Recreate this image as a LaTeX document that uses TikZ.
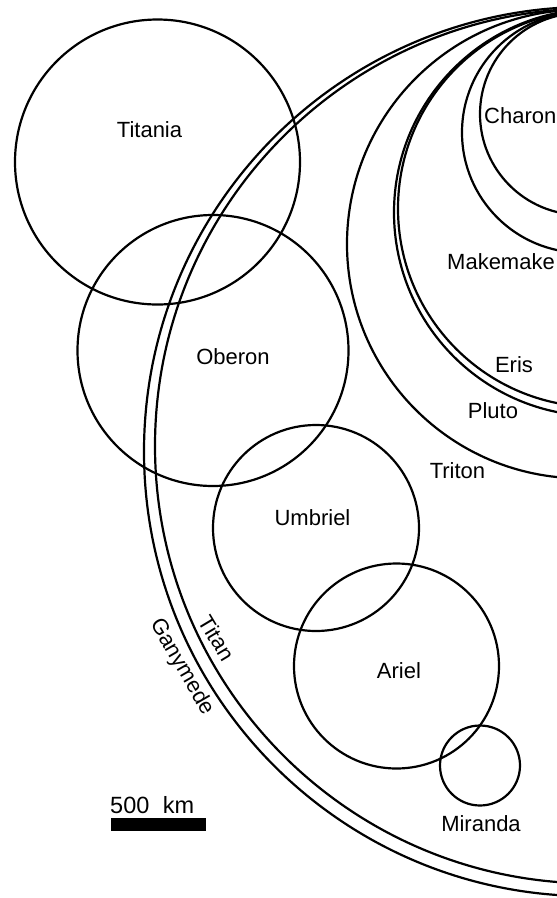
\documentclass[tikz,border=0pt]{standalone}
\usepackage{fontspec}
\setmainfont{Liberation Sans}
\begin{document}
\begin{tikzpicture}[x=1pt, y=-1pt]
    % Styles
    \tikzstyle{disc} = [draw=black, line width=2.2pt]
    \tikzstyle{moonname} = [font=\fontsize{22}{26}\selectfont, inner sep=0pt, anchor=base]
    \tikzstyle{scalebar} = [fill=black, inner sep=0pt, minimum width=95pt, minimum height=13pt]

    \useasboundingbox (0,0) rectangle (557,898);
    \clip (0,0) rectangle (557,898);

    % === Large bodies, all touching near the top right corner ===
    % Ganymede and Titan
    \coordinate (ganymede) at (588.6,451.5);
    \coordinate (titan) at (592.4,446);
    \draw [disc] (ganymede) circle [radius=444.6];
    \draw [disc] (titan) circle [radius=437.4];

    % Triton
    \coordinate (triton) at (581.3,244);
    \draw [disc] (triton) circle [radius=234.3];

    % Pluto and Eris
    \coordinate (pluto) at (597.6,212.5);
    \coordinate (eris) at (596.5,208.5);
    \draw [disc] (pluto) circle [radius=203.6];
    \draw [disc] (eris) circle [radius=198.5];

    % Makemake
    \coordinate (makemake) at (582.2,132.5);
    \draw [disc] (makemake) circle [radius=120.2];

    % Charon
    \coordinate (charon) at (580.9,114);
    \draw [disc] (charon) circle [radius=100.9];

    % === Moons of Uranus ===
    \coordinate (titania) at (157.5,162);
    \coordinate (oberon) at (213,350.5);
    \coordinate (umbriel) at (316,528);
    \coordinate (ariel) at (396.5,666);
    \coordinate (miranda) at (480,765.5);
    \draw [disc] (titania) circle [radius=142.5];
    \draw [disc] (oberon) circle [radius=135.5];
    \draw [disc] (umbriel) circle [radius=103];
    \draw [disc] (ariel) circle [radius=102.5];
    \draw [disc] (miranda) circle [radius=40];

    % === Labels ===
    \node [moonname] (titanialabel) at (149.5,137) {Titania};
    \node [moonname] (oberonlabel) at (233,364) {Oberon};
    \node [moonname] (umbriellabel) at (312.5,525) {Umbriel};
    \node [moonname] (ariellabel) at (399,678) {Ariel};
    \node [moonname] (mirandalabel) at (481,831) {Miranda};
    \node [moonname, anchor=base west] (charonlabel) at (484,123) {Charon};
    \node [moonname, anchor=base west] (makemakelabel) at (447,269) {Makemake};
    \node [moonname] (erislabel) at (514,372) {Eris};
    \node [moonname] (plutolabel) at (493,418) {Pluto};
    \node [moonname] (tritonlabel) at (457.5,478) {Triton};
    \node [moonname, anchor=center, rotate=-59] (titanlabel) at (217,638) {Titan};
    \node [moonname, anchor=center, rotate=-60] (ganymedelabel) at (182,667) {Ganymede};

    % === Scale ===
    \node [scalebar] (bar) at (158.5,824.5) {};
    \node [moonname, anchor=base west, font=\fontsize{23.5}{28}\selectfont] (barlabel) at (110,813) {500\hspace{0.3em} km};

\end{tikzpicture}
\end{document}
